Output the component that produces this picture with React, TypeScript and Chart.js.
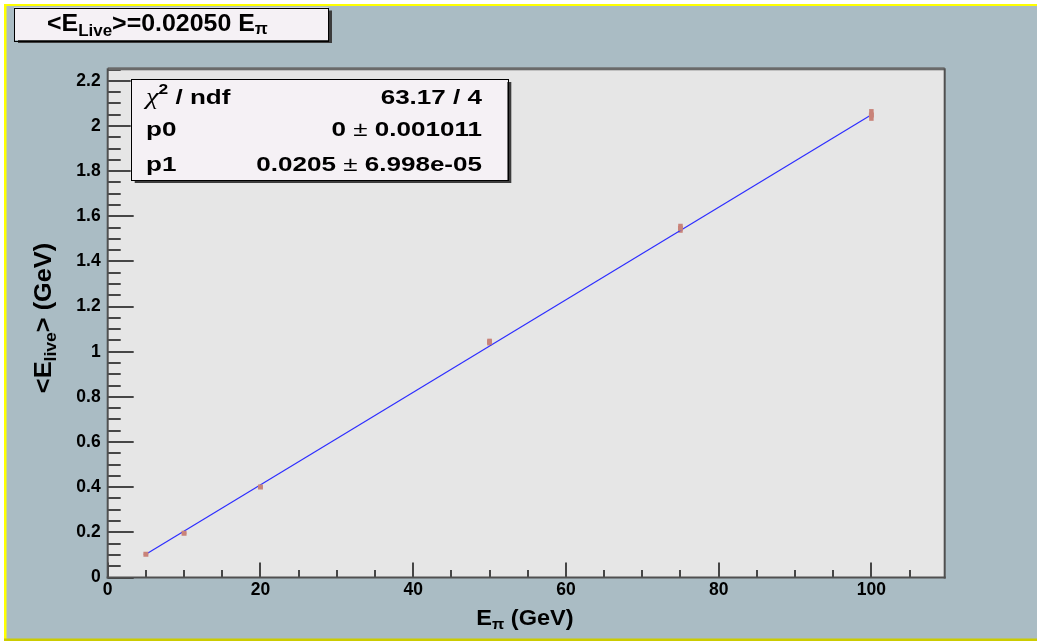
import React, { useEffect, useRef } from 'react';
import { Chart, registerables } from 'chart.js';

Chart.register(...registerables);

// ---- data ----
const beamEnergies = [5, 10, 20, 50, 75, 100];
const meanELive = [0.103, 0.196, 0.401, 1.043, 1.547, 2.049];
const meanELiveErr = [0.003, 0.004, 0.006, 0.015, 0.02, 0.026];
const fitX = [5, 100];
const fitY = [0.1025, 2.05];

const xTickValues = [0, 20, 40, 60, 80, 100];
const xTickLabels = ['0', '20', '40', '60', '80', '100'];
const yTickValues = [0, 0.2, 0.4, 0.6, 0.8, 1, 1.2, 1.4, 1.6, 1.8, 2, 2.2];
const yTickLabels = ['0', '0.2', '0.4', '0.6', '0.8', '1', '1.2', '1.4', '1.6', '1.8', '2', '2.2'];
const xMinorStep = 5;
const yMinorStep = 0.05;

const X_MIN = 0;
const X_MAX = 109.6;
const Y_MIN = 0;
const Y_MAX = 2.2556;

const titleText = ['<E', 'Live', '>=0.02050 E', 'π'];
const statsLeft = ['χ', '2', ' / ndf', 'p0', 'p1'];
const statsRight = ['63.17 / 4', '0', '0.001011', '0.0205', '6.998e-05'];
const xAxisTitle = ['E', 'π', ' (GeV)'];
const yAxisTitle = ['<E', 'live', '> (GeV)'];

// ---- style ----
const W = 1037;
const H = 641;
const AREA = { left: 107.7, right: 944.7, top: 68.3, bottom: 577.5 };
const BG = 'rgb(170,188,196)';
const FRAME_FILL = '#e6e6e6';
const MARKER = '#c98379';
const LINE = 'rgb(45,45,255)';
const PAVE = '#f5f1f5';
const SANS = '"Liberation Sans", Arial, sans-serif';

type Seg = { t: string; font: string; dy?: number };

function drawRich(
  ctx: CanvasRenderingContext2D,
  segs: Seg[],
  x: number,
  y: number,
  align: 'left' | 'right' | 'center',
  sx = 1
) {
  ctx.textAlign = 'left';
  ctx.textBaseline = 'alphabetic';
  let total = 0;
  const widths: number[] = [];
  for (const s of segs) {
    ctx.font = s.font;
    const w = ctx.measureText(s.t).width * sx;
    widths.push(w);
    total += w;
  }
  let cx = align === 'left' ? x : align === 'right' ? x - total : x - total / 2;
  segs.forEach((s, i) => {
    ctx.font = s.font;
    ctx.save();
    ctx.translate(cx, y + (s.dy || 0));
    ctx.scale(sx, 1);
    ctx.fillText(s.t, 0, 0);
    ctx.restore();
    cx += widths[i];
  });
}

function drawPave(ctx: CanvasRenderingContext2D, x0: number, y0: number, x1: number, y1: number) {
  ctx.fillStyle = '#3c3c3c';
  ctx.fillRect(x0 + 4, y0 + 3, x1 - x0, y1 - y0);
  ctx.fillStyle = PAVE;
  ctx.fillRect(x0, y0, x1 - x0, y1 - y0);
  ctx.strokeStyle = '#000';
  ctx.lineWidth = 1;
  ctx.strokeRect(Math.round(x0) + 0.5, Math.round(y0) + 0.5, Math.round(x1 - x0), Math.round(y1 - y0));
}

const rootStyle = {
  id: 'rootStyle',
  beforeDraw(chart: any) {
    const ctx: CanvasRenderingContext2D = chart.ctx;
    ctx.save();
    ctx.fillStyle = '#ffffff';
    ctx.fillRect(0, 0, W, H);
    ctx.fillStyle = BG;
    ctx.fillRect(4, 4, W - 4, 635);
    ctx.fillStyle = '#ffff00';
    ctx.fillRect(4, 4, W - 4, 2);
    ctx.fillRect(4, 4, 2.5, 635);
    ctx.fillStyle = '#cccc00';
    ctx.fillRect(4, 638.5, W - 4, 2.5);
    const a = chart.chartArea;
    ctx.fillStyle = FRAME_FILL;
    ctx.fillRect(a.left, a.top, a.right - a.left, a.bottom - a.top);
    ctx.restore();
  },
  beforeDatasetsDraw(chart: any) {
    const ctx: CanvasRenderingContext2D = chart.ctx;
    const xs = chart.scales.x;
    const ys = chart.scales.y;
    ctx.save();
    ctx.strokeStyle = MARKER;
    ctx.lineWidth = 4.5;
    ctx.lineCap = 'butt';
    beamEnergies.forEach((e, i) => {
      const px = xs.getPixelForValue(e);
      ctx.beginPath();
      ctx.moveTo(px, ys.getPixelForValue(meanELive[i] + meanELiveErr[i]));
      ctx.lineTo(px, ys.getPixelForValue(meanELive[i] - meanELiveErr[i]));
      ctx.stroke();
    });
    ctx.restore();
  },
  afterDatasetsDraw(chart: any) {
    const ctx: CanvasRenderingContext2D = chart.ctx;
    const a = chart.chartArea;
    const xs = chart.scales.x;
    const ys = chart.scales.y;
    ctx.save();
    ctx.strokeStyle = '#2a2a2a';
    ctx.lineWidth = 1.7;
    for (let i = 0; i * xMinorStep <= X_MAX + 1e-9; i++) {
      const v = i * xMinorStep;
      const major = xTickValues.some((t) => Math.abs(t - v) < 1e-6);
      const len = major ? 15 : 7.5;
      const px = Math.round(xs.getPixelForValue(v));
      ctx.beginPath();
      ctx.moveTo(px, a.bottom);
      ctx.lineTo(px, a.bottom - len);
      ctx.stroke();
    }
    for (let i = 0; i * yMinorStep <= Y_MAX + 1e-9; i++) {
      const v = i * yMinorStep;
      const major = yTickValues.some((t) => Math.abs(t - v) < 1e-6);
      const len = major ? 26 : 13;
      const py = Math.round(ys.getPixelForValue(v));
      ctx.beginPath();
      ctx.moveTo(a.left, py);
      ctx.lineTo(a.left + len, py);
      ctx.stroke();
    }
    ctx.fillStyle = '#6a6a6a';
    ctx.fillRect(a.left, a.top - 1, a.right - a.left, 3);
    ctx.fillStyle = '#505050';
    ctx.fillRect(a.left - 1, a.top, 2, a.bottom - a.top + 1);
    ctx.fillRect(a.right - 1, a.top, 2, a.bottom - a.top + 1);
    ctx.fillRect(a.left - 1, a.bottom - 1, a.right - a.left + 2, 2);
    ctx.restore();
  },
  afterDraw(chart: any) {
    const ctx: CanvasRenderingContext2D = chart.ctx;
    ctx.save();

    // title pave
    drawPave(ctx, 14, 7.5, 328, 40);
    ctx.fillStyle = '#000';
    drawRich(
      ctx,
      [
        { t: titleText[0], font: `bold 23.5px ${SANS}` },
        { t: titleText[1], font: `bold 16px ${SANS}`, dy: 5 },
        { t: titleText[2], font: `bold 23.5px ${SANS}` },
        { t: titleText[3], font: `bold 16px ${SANS}`, dy: 3 },
      ],
      47,
      31,
      'left',
      1.06
    );

    // stats pave
    drawPave(ctx, 130.7, 79, 507.3, 180);
    ctx.fillStyle = '#000';
    const fb = `bold 21px ${SANS}`;
    const fn = `21px ${SANS}`;
    const sx = 1.24;
    const lx = 146;
    const rx = 482;
    const base = [104, 136, 171];
    drawRich(
      ctx,
      [
        { t: statsLeft[0], font: `italic 23px "Liberation Serif", serif` },
        { t: statsLeft[1], font: `bold 14px ${SANS}`, dy: -10 },
        { t: statsLeft[2], font: fb },
      ],
      lx,
      base[0],
      'left',
      sx
    );
    drawRich(ctx, [{ t: statsRight[0], font: fb }], rx, base[0], 'right', sx);
    drawRich(ctx, [{ t: statsLeft[3], font: fb }], lx, base[1], 'left', sx);
    drawRich(
      ctx,
      [
        { t: statsRight[1] + ' ', font: fb },
        { t: '±', font: fn },
        { t: ' ' + statsRight[2], font: fb },
      ],
      rx,
      base[1],
      'right',
      sx
    );
    drawRich(ctx, [{ t: statsLeft[4], font: fb }], lx, base[2], 'left', sx);
    drawRich(
      ctx,
      [
        { t: statsRight[3] + ' ', font: fb },
        { t: '±', font: fn },
        { t: ' ' + statsRight[4], font: fb },
      ],
      rx,
      base[2],
      'right',
      sx
    );

    // x axis title
    drawRich(
      ctx,
      [
        { t: xAxisTitle[0], font: `bold 22px ${SANS}` },
        { t: xAxisTitle[1], font: `bold 15px ${SANS}`, dy: 4 },
        { t: xAxisTitle[2], font: `bold 22px ${SANS}` },
      ],
      525,
      625,
      'center',
      1.07
    );

    // y axis title
    ctx.save();
    ctx.translate(51, 318);
    ctx.rotate(-Math.PI / 2);
    drawRich(
      ctx,
      [
        { t: yAxisTitle[0], font: `bold 23px ${SANS}` },
        { t: yAxisTitle[1], font: `bold 16px ${SANS}`, dy: 5 },
        { t: yAxisTitle[2], font: `bold 23px ${SANS}` },
      ],
      0,
      0,
      'center',
      1.1
    );
    ctx.restore();

    ctx.restore();
  },
};

export default function App() {
  const ref = useRef<HTMLCanvasElement>(null);

  useEffect(() => {
    const canvas = ref.current;
    if (!canvas) return;
    const chart = new Chart(canvas, {
      type: 'scatter',
      data: {
        datasets: [
          {
            label: 'data',
            data: beamEnergies.map((x, i) => ({ x, y: meanELive[i] })),
            pointStyle: 'rect',
            pointRadius: 3.5,
            pointBorderWidth: 0,
            pointBackgroundColor: MARKER,
            showLine: false,
          },
          {
            label: 'fit',
            data: fitX.map((x, i) => ({ x, y: fitY[i] })),
            showLine: true,
            borderColor: LINE,
            borderWidth: 1.2,
            pointRadius: 0,
            fill: false,
          },
        ],
      },
      options: {
        responsive: false,
        maintainAspectRatio: false,
        devicePixelRatio: 1,
        animation: false,
        events: [],
        layout: {
          padding: { left: 0, top: AREA.top, right: W - AREA.right, bottom: 0 },
        },
        plugins: {
          legend: { display: false },
          title: { display: false },
          tooltip: { enabled: false },
        },
        scales: {
          x: {
            type: 'linear',
            min: X_MIN,
            max: X_MAX,
            grid: { display: false, drawTicks: false },
            border: { display: false },
            afterFit: (s: any) => {
              s.height = H - AREA.bottom;
            },
            afterBuildTicks: (s: any) => {
              s.ticks = xTickValues.map((v) => ({ value: v }));
            },
            ticks: {
              includeBounds: false,
              autoSkip: false,
              maxRotation: 0,
              padding: 2,
              color: '#000',
              font: { family: SANS, size: 17.5, weight: 'bold' },
              callback: (v: any) => {
                const i = xTickValues.findIndex((t) => Math.abs(t - Number(v)) < 1e-6);
                return i >= 0 ? xTickLabels[i] : '';
              },
            },
          },
          y: {
            type: 'linear',
            min: Y_MIN,
            max: Y_MAX,
            grid: { display: false, drawTicks: false },
            border: { display: false },
            afterFit: (s: any) => {
              s.width = AREA.left;
            },
            afterBuildTicks: (s: any) => {
              s.ticks = yTickValues.map((v) => ({ value: v }));
            },
            ticks: {
              includeBounds: false,
              autoSkip: false,
              padding: 7,
              color: '#000',
              font: { family: SANS, size: 17.5, weight: 'bold' },
              callback: (v: any) => {
                const i = yTickValues.findIndex((t) => Math.abs(t - Number(v)) < 1e-6);
                return i >= 0 ? yTickLabels[i] : '';
              },
            },
          },
        },
      } as any,
      plugins: [rootStyle],
    });
    return () => chart.destroy();
  }, []);

  return (
    <div style={{ position: 'fixed', left: 0, top: 0, width: W, height: H, background: '#fff' }}>
      <canvas ref={ref} width={W} height={H} style={{ display: 'block', width: W, height: H }} />
    </div>
  );
}
